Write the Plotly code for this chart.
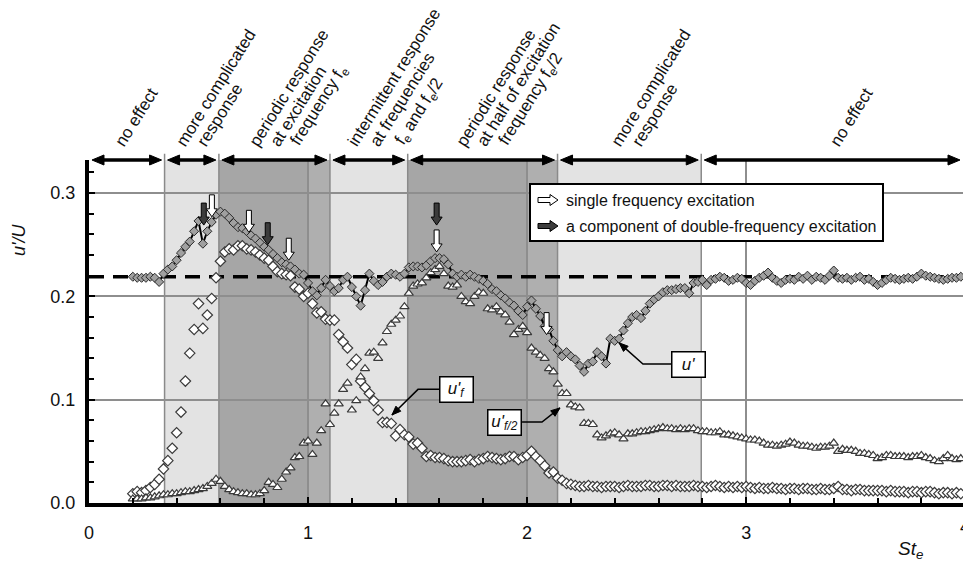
import math
import plotly.graph_objects as go

# ---------------------------------------------------------------------------
# Data: rms velocity fluctuation u'/U versus excitation Strouhal number St_e
# ---------------------------------------------------------------------------
st_e = [
    0.20, 0.22, 0.24, 0.26, 0.28, 0.30, 0.32, 0.34, 0.36, 0.38,
    0.40, 0.42, 0.44, 0.46, 0.48, 0.50, 0.52, 0.54, 0.56, 0.58,
    0.60, 0.62, 0.64, 0.66, 0.68, 0.70, 0.72, 0.74, 0.76, 0.78,
    0.80, 0.82, 0.84, 0.86, 0.88, 0.90, 0.92, 0.94, 0.96, 0.98,
    1.00, 1.02, 1.04, 1.06, 1.08, 1.10, 1.12, 1.14, 1.16, 1.18,
    1.20, 1.22, 1.24, 1.26, 1.28, 1.30, 1.32, 1.34, 1.36, 1.38,
    1.40, 1.42, 1.44, 1.46, 1.48, 1.50, 1.52, 1.54, 1.56, 1.58,
    1.60, 1.62, 1.64, 1.66, 1.68, 1.70, 1.72, 1.74, 1.76, 1.78,
    1.80, 1.82, 1.84, 1.86, 1.88, 1.90, 1.92, 1.94, 1.96, 1.98,
    2.00, 2.02, 2.04, 2.06, 2.08, 2.10, 2.12, 2.14, 2.16, 2.18,
    2.20, 2.22, 2.24, 2.26, 2.28, 2.30, 2.32, 2.34, 2.36, 2.38,
    2.40, 2.42, 2.44, 2.46, 2.48, 2.50, 2.52, 2.54, 2.56, 2.58,
    2.60, 2.62, 2.64, 2.66, 2.68, 2.70, 2.72, 2.74, 2.76, 2.78,
    2.80, 2.82, 2.84, 2.86, 2.88, 2.90, 2.92, 2.94, 2.96, 2.98,
    3.00, 3.02, 3.04, 3.06, 3.08, 3.10, 3.12, 3.14, 3.16, 3.18,
    3.20, 3.22, 3.24, 3.26, 3.28, 3.30, 3.32, 3.34, 3.36, 3.38,
    3.40, 3.42, 3.44, 3.46, 3.48, 3.50, 3.52, 3.54, 3.56, 3.58,
    3.60, 3.62, 3.64, 3.66, 3.68, 3.70, 3.72, 3.74, 3.76, 3.78,
    3.80, 3.82, 3.84, 3.86, 3.88, 3.90, 3.92, 3.94, 3.96, 3.98,
]

# total fluctuation u'
u_total = [
    .219, .218, .218, .218, .219, .218, .214, .222, .226, .229,
    .235, .242, .248, .253, .263, .273, .251, .263, .272, .279,
    .282, .280, .276, .271, .267, .266, .263, .259, .256, .252,
    .248, .245, .241, .237, .233, .231, .229, .226, .222, .221,
    .213, .205, .201, .208, .216, .210, .205, .208, .216, .219,
    .209, .200, .191, .206, .222, .215, .211, .214, .219, .222,
    .221, .219, .222, .228, .229, .229, .228, .230, .234, .237,
    .237, .236, .231, .222, .219, .221, .219, .221, .219, .217,
    .215, .212, .207, .205, .201, .198, .194, .191, .186, .182,
    .190, .196, .188, .181, .171, .168, .157, .148, .142, .146,
    .142, .139, .133, .127, .135, .137, .146, .142, .135, .159,
    .157, .159, .167, .174, .180, .182, .179, .186, .193, .197,
    .200, .204, .206, .206, .207, .208, .208, .203, .213, .214,
    .216, .211, .216, .217, .219, .218, .215, .216, .218, .217,
    .213, .211, .215, .218, .220, .223, .218, .215, .213, .216,
    .217, .216, .219, .217, .220, .216, .219, .218, .216, .220,
    .225, .218, .217, .218, .216, .218, .219, .216, .217, .214,
    .211, .213, .216, .218, .217, .216, .217, .218, .217, .219,
    .222, .220, .219, .218, .217, .216, .217, .218, .218, .219,
]

# component at the excitation frequency f_e
u_fe = [
    .009, .011, .010, .012, .015, .018, .023, .033, .041, .053,
    .068, .088, .118, .145, .168, .193, .169, .182, .198, .218,
    .234, .243, .246, .245, .249, .249, .246, .245, .243, .240,
    .237, .235, .229, .224, .222, .221, .220, .209, .207, .200,
    .203, .193, .184, .185, .178, .177, .177, .163, .156, .150,
    .134, .139, .118, .112, .106, .099, .090, .078, .078, .077,
    .065, .071, .066, .064, .057, .058, .053, .045, .046, .044,
    .044, .043, .041, .040, .040, .040, .041, .042, .040, .042,
    .043, .045, .044, .043, .042, .043, .045, .045, .042, .044,
    .046, .050, .045, .041, .036, .029, .030, .024, .022, .019,
    .018, .017, .016, .016, .017, .016, .016, .015, .016, .016,
    .016, .015, .016, .017, .016, .016, .016, .017, .017, .016,
    .016, .017, .017, .016, .017, .016, .016, .016, .017, .016,
    .016, .015, .016, .017, .016, .015, .016, .015, .016, .015,
    .016, .015, .014, .015, .014, .014, .015, .014, .014, .013,
    .014, .014, .013, .014, .014, .013, .013, .014, .013, .013,
    .014, .016, .013, .013, .012, .013, .013, .012, .012, .012,
    .012, .012, .011, .012, .011, .011, .011, .010, .011, .011,
    .010, .011, .011, .010, .009, .010, .010, .009, .010, .009,
]

# component at half of the excitation frequency f_e/2
u_fe2 = [
    .004, .004, .004, .005, .005, .006, .007, .008, .008, .009,
    .009, .010, .011, .011, .012, .013, .014, .016, .019, .023,
    .021, .016, .013, .011, .010, .009, .009, .008, .008, .009,
    .012, .020, .018, .015, .023, .030, .034, .044, .045, .058,
    .060, .047, .058, .070, .096, .076, .087, .096, .110, .116,
    .090, .099, .122, .130, .145, .146, .140, .155, .166, .173,
    .177, .181, .190, .203, .210, .212, .213, .218, .223, .226,
    .229, .222, .210, .209, .211, .200, .195, .193, .200, .204,
    .203, .188, .187, .190, .185, .182, .175, .163, .168, .171,
    .165, .150, .146, .143, .140, .130, .127, .115, .106, .106,
    .095, .093, .092, .077, .077, .076, .066, .063, .065, .067,
    .068, .066, .062, .067, .067, .068, .069, .069, .070, .071,
    .072, .073, .072, .072, .071, .072, .071, .072, .072, .070,
    .069, .069, .068, .068, .069, .066, .066, .065, .064, .063,
    .062, .061, .061, .060, .058, .056, .056, .055, .056, .057,
    .059, .058, .056, .055, .055, .054, .053, .054, .054, .055,
    .058, .050, .052, .051, .051, .050, .048, .048, .047, .046,
    .043, .044, .046, .046, .045, .045, .045, .044, .045, .045,
    .046, .044, .043, .041, .040, .043, .046, .043, .042, .043,
]

# level of u'/U in the unexcited flow
u_natural = 0.219

# flow-regime bands along St_e
region_edges = [0.0, 0.345, 0.593, 1.10, 1.455, 2.139, 2.795, 3.99]
region_shade = ["none", "light", "dark", "light", "dark", "light", "none"]
region_labels = [
    ["no effect"],
    ["more complicated", "response"],
    ["periodic response", "at excitation", "frequency f<sub>e</sub>"],
    ["intermittent response", "at frequencies",
     "f<sub>e</sub> and f<sub>e</sub>/2"],
    ["periodic response", "at half of excitation",
     "frequency f<sub>e</sub>/2"],
    ["more complicated", "response"],
    ["no effect"],
]
# narrower transition strips inside the periodic bands
transition_bands = [(1.00, 1.10), (2.00, 2.139)]

# excitation markers: St_e, u'/U at arrow tip, kind
arrow_st = [0.524, 0.561, 0.730, 0.816, 0.912, 1.587, 1.587, 2.089]
arrow_tip = [0.269, 0.277, 0.262, 0.250, 0.235, 0.269, 0.243, 0.163]
arrow_kind = ["double", "single", "single", "double", "single",
              "double", "single", "single"]

# ---------------------------------------------------------------------------
# Layout geometry
# ---------------------------------------------------------------------------
W, H = 963, 564
M_L, M_R, M_T, M_B = 89, 0, 160, 61
X_MAX, Y_MAX = 3.99, 0.332
PLOT_W = W - M_L - M_R
PLOT_H = H - M_T - M_B
PX_X = PLOT_W / X_MAX
PX_Y = PLOT_H / Y_MAX

FONT = "Liberation Sans, Arial, sans-serif"
TEXT = "#111111"
LIGHT = "#e3e3e3"
DARK = "#a6a6a6"
MID = "#afafaf"
GRID = "#8e8e8e"
FILL = {"single": "white", "double": "#3c3c3c"}

# start of each rotated label line (pixels from the left edge)
label_line_px = [[117], [178, 199], [251, 272, 292], [350, 372, 397],
                 [458, 479, 500], [613, 634], [832]]
LABEL_ANGLE = 58
LABEL_SHIFT = 6


def paper_x(px):
    return (px - M_L) / PLOT_W


def paper_y(py):
    return (H - M_B - py) / PLOT_H


def path_from(points):
    return "M" + " L".join(f"{a:.5f},{b:.5f}" for a, b in points) + " Z"


def down_arrow(x, y_tip):
    # block arrow in data units; offsets given in pixels (right, up)
    pts = [(-2.5, 22), (2.5, 22), (2.5, 8), (5.5, 8), (0, 0), (-5.5, 8), (-2.5, 8)]
    return path_from([(x + dx / PX_X, y_tip + dy / PX_Y) for dx, dy in pts])


def right_arrow(px_tip, py):
    # block arrow in paper units; offsets in pixels (right, down)
    pts = [(-20, -2.5), (-8, -2.5), (-8, -5.5), (0, 0), (-8, 5.5), (-8, 2.5), (-20, 2.5)]
    return path_from([(paper_x(px_tip + dx), paper_y(py + dy)) for dx, dy in pts])


def span_arrow(x0, x1):
    # thick double-headed arrow along the top edge, in paper units
    a = x0 / X_MAX + 3 / PLOT_W
    b = x1 / X_MAX - 3 / PLOT_W
    hl, hw = 12 / PLOT_W, 5 / PLOT_H
    left = [(a, 1), (a + hl, 1 + hw), (a + hl, 1 - hw)]
    right = [(b, 1), (b - hl, 1 + hw), (b - hl, 1 - hw)]
    style = dict(xref="paper", yref="paper", layer="above")
    return [
        dict(type="line", x0=a + hl / 2, x1=b - hl / 2, y0=1, y1=1,
             line=dict(color="black", width=3.5), **style),
        dict(type="path", path=path_from(left), fillcolor="black",
             line=dict(color="black", width=1), **style),
        dict(type="path", path=path_from(right), fillcolor="black",
             line=dict(color="black", width=1), **style),
    ]


def leader_head(ex, ey, tx, ty):
    # small filled arrowhead at (tx, ty), pointing away from (ex, ey)
    dxp, dyp = (tx - ex) * PX_X, (ty - ey) * PX_Y
    n = math.hypot(dxp, dyp)
    ux, uy = dxp / n, dyp / n
    hl, hw = 9, 3.5
    bx, by = -ux * hl, -uy * hl
    pts = [(0, 0), (bx - uy * hw, by + ux * hw), (bx + uy * hw, by - ux * hw)]
    return path_from([(tx + px / PX_X, ty + py / PX_Y) for px, py in pts])


fig = go.Figure()

# reference level of the unexcited flow
fig.add_trace(go.Scatter(
    x=[0, X_MAX], y=[u_natural, u_natural], mode="lines",
    line=dict(color="black", width=3.5, dash="15px,9px"),
    hoverinfo="skip", showlegend=False,
))

fig.add_trace(go.Scatter(
    x=st_e, y=u_fe, mode="markers", name="u'f",
    marker=dict(symbol="diamond", size=8, color="white",
                line=dict(color="#3a3a3a", width=1.2)),
    showlegend=False,
))
fig.add_trace(go.Scatter(
    x=st_e, y=u_fe2, mode="markers", name="u'f/2",
    marker=dict(symbol="triangle-up", size=8, color="white",
                line=dict(color="#3a3a3a", width=1.2)),
    showlegend=False,
))
fig.add_trace(go.Scatter(
    x=st_e, y=u_total, mode="lines+markers", name="u'",
    line=dict(color="black", width=2),
    marker=dict(symbol="diamond", size=7, color="#a0a0a0",
                line=dict(color="#2a2a2a", width=1)),
    showlegend=False,
))

shapes = []
annotations = []

# regime bands
shade_color = {"light": LIGHT, "dark": DARK}
for i, shade in enumerate(region_shade):
    if shade == "none":
        continue
    shapes.append(dict(type="rect", xref="x", yref="paper",
                       x0=region_edges[i], x1=region_edges[i + 1], y0=0, y1=1,
                       fillcolor=shade_color[shade], line=dict(width=0), layer="below"))
for a, b in transition_bands:
    shapes.append(dict(type="rect", xref="x", yref="paper", x0=a, x1=b, y0=0, y1=1,
                       fillcolor=MID, line=dict(width=0), layer="below"))
for edge in region_edges[1:-1]:
    shapes.append(dict(type="line", xref="paper", yref="paper",
                       x0=edge / X_MAX, x1=edge / X_MAX, y0=0, y1=1.018,
                       line=dict(color="#8a8a8a", width=1.5), layer="below"))

# double-headed arrows spanning each regime along the top edge
for i in range(len(region_shade)):
    shapes.extend(span_arrow(region_edges[i], region_edges[i + 1]))

# rotated regime descriptions, one annotation per line
for lines, starts in zip(region_labels, label_line_px):
    for txt, sx in zip(lines, starts):
        annotations.append(dict(
            x=paper_x(sx - LABEL_SHIFT), y=paper_y(150), xref="paper", yref="paper",
            text=txt, showarrow=False, textangle=-LABEL_ANGLE, xanchor="left",
            yanchor="bottom", borderpad=0, borderwidth=0,
            font=dict(family=FONT, size=17, color=TEXT),
        ))

# excitation arrows on the u' curve
for x, yt, kind in zip(arrow_st, arrow_tip, arrow_kind):
    shapes.append(dict(type="path", xref="x", yref="y", path=down_arrow(x, yt),
                       fillcolor=FILL[kind], line=dict(color="black", width=1),
                       layer="above"))

# key for the excitation arrows
shapes.append(dict(type="rect", xref="paper", yref="paper",
                   x0=paper_x(530), x1=paper_x(883), y0=paper_y(241), y1=paper_y(184),
                   fillcolor="white", line=dict(color="black", width=2), layer="above"))
for py, kind, txt in [(200, "single", "single frequency excitation"),
                      (226, "double", "a component of double-frequency excitation")]:
    shapes.append(dict(type="path", xref="paper", yref="paper", path=right_arrow(558, py),
                       fillcolor=FILL[kind], line=dict(color="black", width=1),
                       layer="above"))
    annotations.append(dict(x=paper_x(564), y=paper_y(py), xref="paper", yref="paper",
                            text=txt, showarrow=False, xanchor="left", yanchor="middle",
                            font=dict(family=FONT, size=16, color=TEXT)))

# series callouts: box centre, box edge, elbow, arrow tip (data units)
callouts = [
    ("<i>u'<sub>f</sub></i>", (1.678, 0.1094), 1.603, (1.502, 0.110), (1.383, 0.0852)),
    ("<i>u'<sub>f/2</sub></i>", (1.899, 0.0784), 1.977, (2.068, 0.0784), (2.150, 0.092)),
    ("<i>u'</i>", (2.737, 0.134), 2.657, (2.529, 0.1346), (2.420, 0.155)),
]
for txt, (bx, by), edge_x, (ex, ey), (tx, ty) in callouts:
    shapes.append(dict(type="path", xref="x", yref="y",
                       path=f"M{edge_x},{ey} L{ex},{ey} L{tx},{ty}",
                       line=dict(color="black", width=1.5), layer="above"))
    shapes.append(dict(type="path", xref="x", yref="y", path=leader_head(ex, ey, tx, ty),
                       fillcolor="black", line=dict(color="black", width=1),
                       layer="above"))
    annotations.append(dict(x=bx, y=by, xref="x", yref="y", text=txt, showarrow=False,
                            xanchor="center", yanchor="middle",
                            bgcolor="white", bordercolor="black", borderwidth=1.5,
                            borderpad=2, width=28, height=20,
                            font=dict(family=FONT, size=17, color=TEXT)))

# axis titles and the last tick label, which sits on the right edge
annotations.append(dict(x=paper_x(19), y=paper_y(240), xref="paper", yref="paper",
                        text="<i>u'/U</i>", textangle=-90, showarrow=False,
                        xanchor="center", yanchor="middle",
                        font=dict(family=FONT, size=18, color=TEXT)))
annotations.append(dict(x=paper_x(910), y=paper_y(550), xref="paper", yref="paper",
                        text="<i>St<sub>e</sub></i>", showarrow=False,
                        xanchor="center", yanchor="middle",
                        font=dict(family=FONT, size=19, color=TEXT)))
annotations.append(dict(x=4 / X_MAX, y=paper_y(527), xref="paper", yref="paper",
                        text="4", showarrow=False, xanchor="center", yanchor="middle",
                        font=dict(family=FONT, size=18, color=TEXT)))

fig.update_layout(
    width=W, height=H, autosize=False,
    margin=dict(l=M_L, r=M_R, t=M_T, b=M_B, pad=0),
    paper_bgcolor="white", plot_bgcolor="white",
    font=dict(family=FONT, size=18, color=TEXT),
    shapes=shapes, annotations=annotations, showlegend=False,
    xaxis=dict(range=[0, X_MAX], tick0=0, dtick=1, showline=True, linewidth=4,
               linecolor="black", showgrid=True, gridcolor=GRID, gridwidth=2,
               zeroline=False, ticks="inside", ticklen=6, tickwidth=2,
               tickcolor="black", tickfont=dict(size=18), ticklabelstandoff=10,
               minor=dict(dtick=0.2, ticks="inside", ticklen=5, tickwidth=2,
                          tickcolor="black", showgrid=False)),
    yaxis=dict(range=[0, Y_MAX], tick0=0, dtick=0.1, tickformat=".1f",
               showline=True, linewidth=4, linecolor="black", showgrid=True,
               gridcolor=GRID, gridwidth=2, zeroline=False, ticks="inside",
               ticklen=6, tickwidth=2, tickcolor="black", tickfont=dict(size=18),
               ticklabelstandoff=6,
               minor=dict(dtick=0.02, ticks="inside", ticklen=5, tickwidth=2,
                          tickcolor="black", showgrid=False)),
)

fig.write_html("out.html")
